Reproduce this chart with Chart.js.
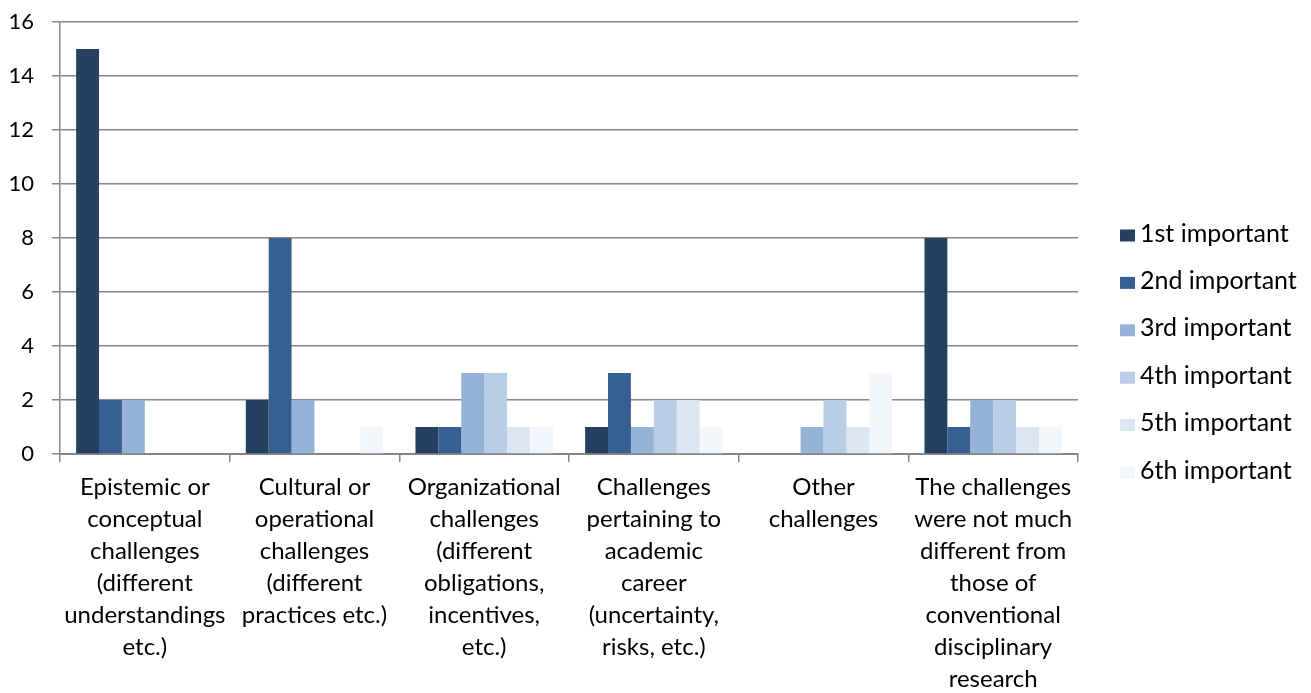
<!DOCTYPE html>
<html>
<head>
<meta charset="utf-8">
<script src="https://cdn.jsdelivr.net/npm/chart.js@4.4.0/dist/chart.umd.min.js"></script>
<style>
  html, body { margin: 0; padding: 0; background: #fff; }
  #wrap { width: 1311px; height: 693px; }
</style>
</head>
<body>
<div id="wrap"><canvas id="chart" width="1311" height="693"></canvas></div>
<script>
// categories (multi-line labels as drawn under the axis)
const categories = [
  ['Epistemic or', 'conceptual', 'challenges', '(different', 'understandings', 'etc.)'],
  ['Cultural or', 'operational', 'challenges', '(different', 'practices etc.)'],
  ['Organizational', 'challenges', '(different', 'obligations,', 'incentives,', 'etc.)'],
  ['Challenges', 'pertaining to', 'academic', 'career', '(uncertainty,', 'risks, etc.)'],
  ['Other', 'challenges'],
  ['The challenges', 'were not much', 'different from', 'those of', 'conventional', 'disciplinary', 'research']
];

const seriesNames = ['1st important', '2nd important', '3rd important', '4th important', '5th important', '6th important'];

const first  = [15, 2, 1, 1, 0, 8];
const second = [2, 8, 1, 3, 0, 1];
const third  = [2, 2, 3, 1, 1, 2];
const fourth = [0, 0, 3, 2, 2, 2];
const fifth  = [0, 0, 1, 2, 1, 1];
const sixth  = [0, 1, 1, 1, 3, 1];

const seriesColors = ['#264061', '#366092', '#95B3D7', '#B9CDE5', '#DCE6F2', '#F2F5FA'];

const FONT = 'Lato, "Open Sans", sans-serif';
const GRID = '#868686';

const allSeries = [first, second, third, fourth, fifth, sixth];

// legend drawn at the right, spaced like the original
const sideLegend = {
  id: 'sideLegend',
  afterDraw(chart) {
    const ctx = chart.ctx;
    const area = chart.chartArea;
    const x = area.right + 42;
    const step = 47.4;
    const y0 = 235.5;
    ctx.save();
    ctx.font = '25px ' + FONT;
    ctx.textBaseline = 'middle';
    ctx.textAlign = 'left';
    chart.data.datasets.forEach((ds, i) => {
      const cy = y0 + i * step;
      ctx.fillStyle = ds.backgroundColor;
      ctx.fillRect(x, cy - 6, 15, 12);
      ctx.fillStyle = '#000';
      ctx.fillText(ds.label, x + 20, cy - 2);
    });
    ctx.restore();
  }
};

new Chart(document.getElementById('chart'), {
  type: 'bar',
  data: {
    labels: categories,
    datasets: allSeries.map((vals, i) => ({
      label: seriesNames[i],
      data: vals,
      backgroundColor: seriesColors[i],
      borderWidth: 0,
      categoryPercentage: 0.81,
      barPercentage: 1.0
    }))
  },
  plugins: [sideLegend],
  options: {
    responsive: false,
    animation: false,
    layout: { padding: { top: 22, right: 233, left: 0, bottom: 0 } },
    plugins: {
      legend: { display: false },
      tooltip: { enabled: false }
    },
    scales: {
      x: {
        afterFit(scale) {
          scale.paddingLeft = 0;
          scale.paddingRight = 0;
          scale.height = 239;
        },
        grid: {
          offset: true,
          drawOnChartArea: false,
          drawTicks: true,
          tickLength: 8,
          color: GRID,
          lineWidth: 1.5
        },
        border: { color: GRID, width: 2 },
        ticks: {
          maxRotation: 0,
          autoSkip: false,
          color: '#000',
          padding: 9,
          font: { family: FONT, size: 24, lineHeight: 1.333 }
        }
      },
      y: {
        min: 0,
        max: 16,
        afterFit(scale) {
          scale.width = 60;
          scale.paddingTop = 0;
          scale.paddingBottom = 0;
        },
        grid: {
          color: GRID,
          lineWidth: 1.5,
          tickLength: 8
        },
        border: { color: GRID, width: 1.5 },
        ticks: {
          stepSize: 2,
          color: '#000',
          padding: 18,
          font: { family: FONT, size: 22 }
        }
      }
    }
  }
});
</script>
</body>
</html>
